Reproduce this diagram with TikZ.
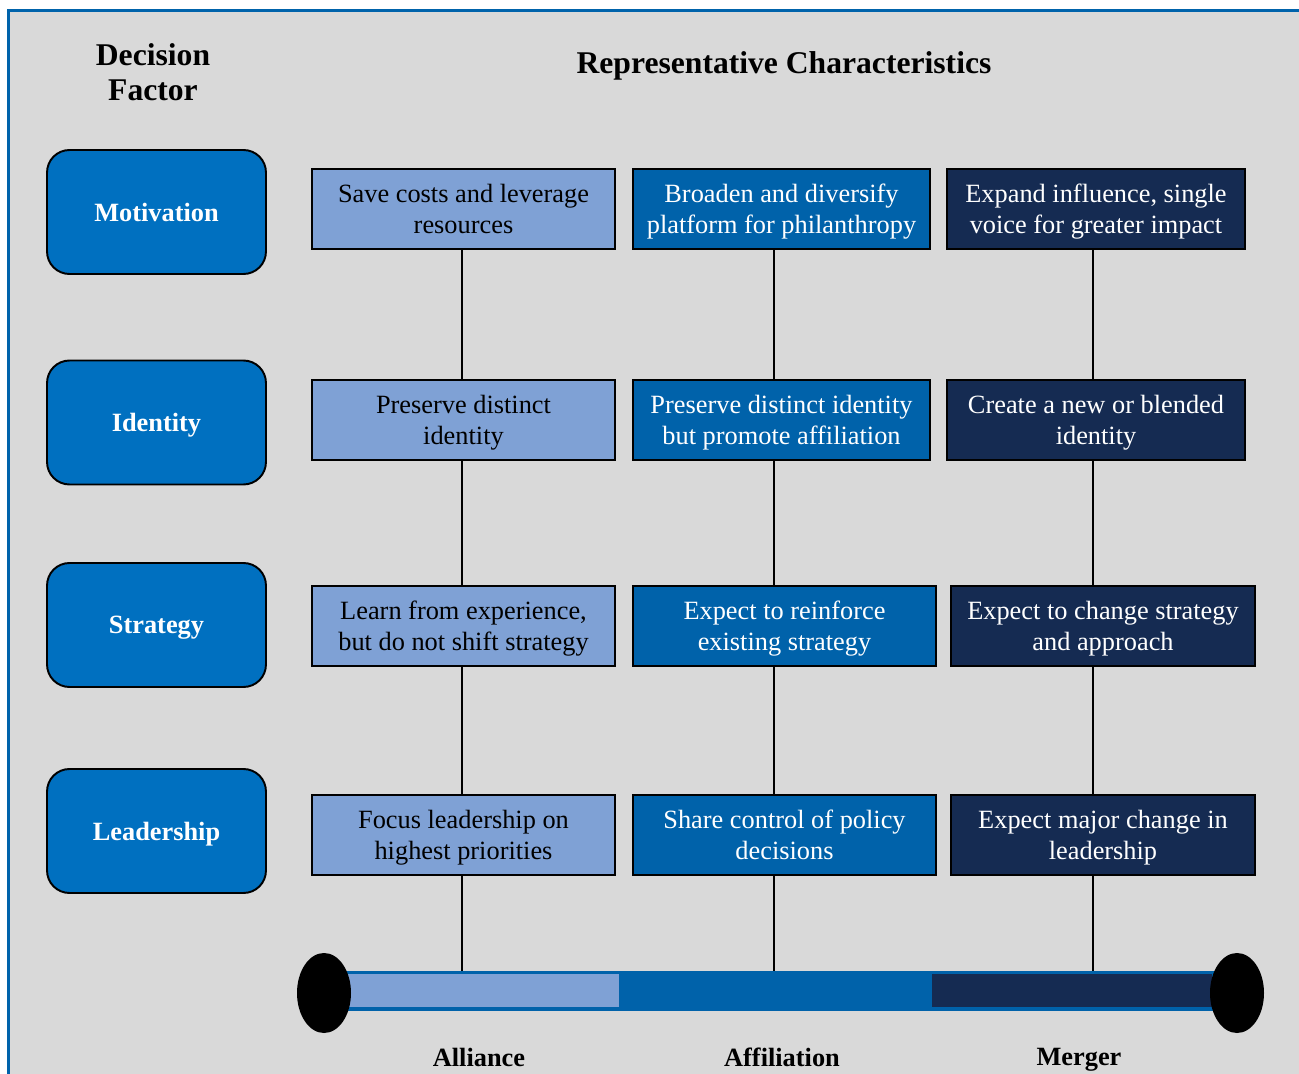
\documentclass[tikz,border=0pt]{standalone}
\usepackage{fontspec}
\setmainfont{Liberation Serif}
\usepackage{tikz}
\usetikzlibrary{shapes.geometric,positioning}
\definecolor{liteb}{HTML}{7FA1D5}
\definecolor{midb}{HTML}{0062AA}
\definecolor{darkb}{HTML}{152B52}
\definecolor{factorb}{HTML}{0070C0}
\definecolor{panel}{HTML}{D9D9D9}
\definecolor{edgeb}{HTML}{0063AB}

\begin{document}
\begin{tikzpicture}[x=0.02cm, y=-0.02cm]
	\tikzstyle{every node} = [font=\fontsize{15}{17.6}\selectfont, text depth=0pt]
	\tikzstyle{factor} = [rectangle, rounded corners=0.45cm, draw=black, line width=1.1pt, fill=factorb, text=white, font=\fontsize{15}{17.6}\selectfont\bfseries, minimum width=4.38cm, minimum height=2.48cm]
	\tikzstyle{charbox} = [rectangle, draw=black, line width=1.1pt, align=center, inner sep=0pt, minimum height=1.6cm]
	\tikzstyle{alliancebox} = [charbox, fill=liteb, text=black]
	\tikzstyle{affilbox} = [charbox, fill=midb, text=white]
	\tikzstyle{mergerbox} = [charbox, fill=darkb, text=white]
	\tikzstyle{head} = [font=\fontsize{18}{20}\selectfont\bfseries, align=center]
	\tikzstyle{kind} = [font=\fontsize{15}{17.6}\selectfont\bfseries]
	\tikzstyle{link} = [draw=black, line width=0.8pt]

\useasboundingbox (0,0) rectangle (1299,1074);
\path[fill=panel, draw=edgeb, line width=1.7pt] (8.5,10.5) rectangle (1330,1100);

% headings
\node[head] (dh) at (153,72) {Decision\\Factor};
\node[head] (rh) at (784,63) {Representative Characteristics};

% decision factors
\node[factor] (10) at (156.5,212) {Motivation};
\node[factor] (20) at (156.5,422.5) {Identity};
\node[factor] (30) at (156.5,625) {Strategy};
\node[factor] (40) at (156.5,831) {Leadership};

% characteristics
\node[alliancebox, minimum width=6.06cm] (11) at (463.5,209) {Save costs and leverage\\resources};
\node[affilbox, minimum width=5.94cm] (12) at (781.5,209) {Broaden and diversify\\platform for philanthropy};
\node[mergerbox, minimum width=5.96cm] (13) at (1096,209) {Expand influence, single\\voice for greater impact};

\node[alliancebox, minimum width=6.06cm] (21) at (463.5,420) {Preserve distinct\\identity};
\node[affilbox, minimum width=5.94cm] (22) at (781.5,420) {Preserve distinct identity\\but promote affiliation};
\node[mergerbox, minimum width=5.96cm] (23) at (1096,420) {Create a new or blended\\identity};

\node[alliancebox, minimum width=6.06cm] (31) at (463.5,626) {Learn from experience,\\but do not shift strategy};
\node[affilbox, minimum width=6.06cm] (32) at (784.5,626) {Expect to reinforce\\existing strategy};
\node[mergerbox, minimum width=6.08cm] (33) at (1103,626) {Expect to change strategy\\and approach};

\node[alliancebox, minimum width=6.06cm] (41) at (463.5,835) {Focus leadership on\\highest priorities};
\node[affilbox, minimum width=6.06cm] (42) at (784.5,835) {Share control of policy\\decisions};
\node[mergerbox, minimum width=6.08cm] (43) at (1103,835) {Expect major change in\\leadership};

% spectrum bar
\fill[midb] (345,971) rectangle (1215,1011);
\fill[liteb] (348,974) rectangle (619,1007);
\fill[darkb] (932,974) rectangle (1212,1007);
\fill[black] (324,993) ellipse [x radius=27, y radius=40];
\fill[black] (1237,993) ellipse [x radius=27, y radius=40];
\coordinate (bar) at (0,971);

\coordinate (t1) at (462,0);
\coordinate (t2) at (774,0);
\coordinate (t3) at (1093,0);

	\path[link] (11.south -| t1) -- (21.north -| t1);
	\path[link] (21.south -| t1) -- (31.north -| t1);
	\path[link] (31.south -| t1) -- (41.north -| t1);
	\path[link] (41.south -| t1) -- (bar -| t1);
	\path[link] (12.south -| t2) -- (22.north -| t2);
	\path[link] (22.south -| t2) -- (32.north -| t2);
	\path[link] (32.south -| t2) -- (42.north -| t2);
	\path[link] (42.south -| t2) -- (bar -| t2);
	\path[link] (13.south -| t3) -- (23.north -| t3);
	\path[link] (23.south -| t3) -- (33.north -| t3);
	\path[link] (33.south -| t3) -- (43.north -| t3);
	\path[link] (43.south -| t3) -- (bar -| t3);

\node[kind] (al) at (479,1057) {Alliance};
\node[kind] (af) at (782,1057) {Affiliation};
\node[kind] (me) at (1079,1057) {Merger};
\end{tikzpicture}
\end{document}
